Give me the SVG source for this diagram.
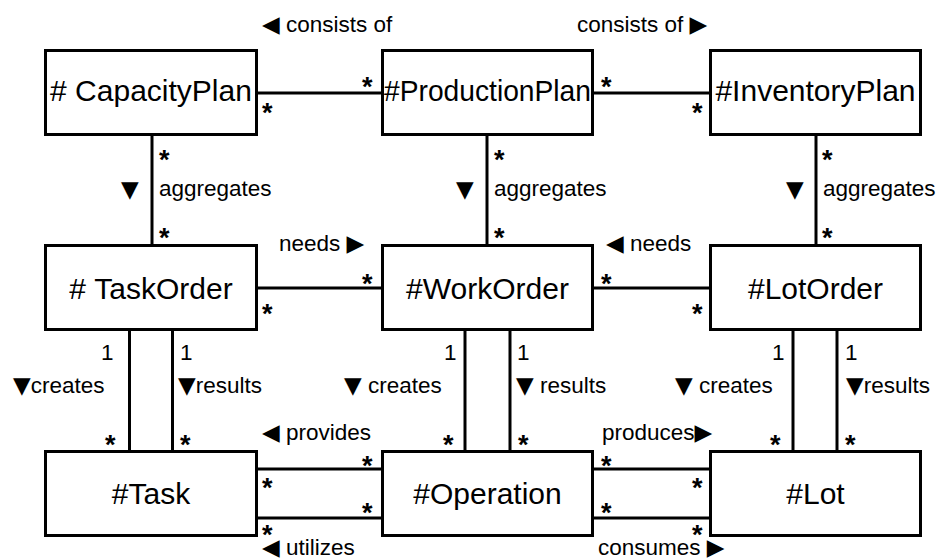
<svg xmlns="http://www.w3.org/2000/svg" width="939" height="560" viewBox="0 0 939 560">
<style>
.box{fill:#fff;stroke:#000;stroke-width:3}
.ln{stroke:#000;stroke-width:3;fill:none}
.nm{font-family:"Liberation Sans",Arial,sans-serif;font-size:30px;fill:#000;text-anchor:middle}
.lb{font-family:"Liberation Sans","DejaVu Sans",Arial,sans-serif;font-size:22.5px;fill:#000}
.st{font-family:"Liberation Sans",Arial,sans-serif;font-size:27px;font-weight:bold;fill:#000}
.tr{font-family:"DejaVu Sans",sans-serif;font-size:23px}
</style>
<rect width="939" height="560" fill="#fff"/>
<g id="connectors">
<line class="ln" x1="257" y1="93" x2="382" y2="93"/>
<line class="ln" x1="592" y1="93" x2="710" y2="93"/>
<line class="ln" x1="152" y1="135" x2="152" y2="246"/>
<line class="ln" x1="487" y1="135" x2="487" y2="246"/>
<line class="ln" x1="816" y1="135" x2="816" y2="246"/>
<line class="ln" x1="257" y1="288" x2="382" y2="288"/>
<line class="ln" x1="592" y1="288" x2="710" y2="288"/>
<line class="ln" x1="129.5" y1="330" x2="129.5" y2="452"/>
<line class="ln" x1="172.5" y1="330" x2="172.5" y2="452"/>
<line class="ln" x1="465" y1="330" x2="465" y2="452"/>
<line class="ln" x1="510" y1="330" x2="510" y2="452"/>
<line class="ln" x1="793" y1="330" x2="793" y2="452"/>
<line class="ln" x1="837" y1="330" x2="837" y2="452"/>
<line class="ln" x1="257" y1="469" x2="382" y2="469"/>
<line class="ln" x1="257" y1="518" x2="382" y2="518"/>
<line class="ln" x1="592" y1="469" x2="710" y2="469"/>
<line class="ln" x1="592" y1="518" x2="710" y2="518"/>
</g>
<g id="labels">
<text class="lb" x="262" y="32"><tspan class="tr">◀</tspan> consists of</text>
<text class="lb" x="577" y="32">consists of <tspan class="tr">▶</tspan></text>
<text class="st" x="262" y="122">*</text>
<text class="st" x="362" y="96">*</text>
<text class="st" x="601" y="96">*</text>
<text class="st" x="692" y="122">*</text>
<text class="st" x="159" y="169">*</text>
<text class="st" x="159" y="247">*</text>
<text class="st" x="494" y="169">*</text>
<text class="st" x="494" y="247">*</text>
<text class="st" x="822" y="169">*</text>
<text class="st" x="822" y="247">*</text>
<text class="lb" x="121" y="197"><tspan class="tr">▼</tspan></text>
<text class="lb" x="159" y="196">aggregates</text>
<text class="lb" x="456" y="197"><tspan class="tr">▼</tspan></text>
<text class="lb" x="494" y="196">aggregates</text>
<text class="lb" x="786" y="197"><tspan class="tr">▼</tspan></text>
<text class="lb" x="823" y="196">aggregates</text>
<text class="lb" x="279" y="251">needs <tspan class="tr">▶</tspan></text>
<text class="lb" x="606" y="251"><tspan class="tr">◀</tspan> needs</text>
<text class="st" x="262" y="323">*</text>
<text class="st" x="362" y="293">*</text>
<text class="st" x="601" y="293">*</text>
<text class="st" x="692" y="323">*</text>
<text class="lb" x="101" y="360">1</text>
<text class="lb" x="180" y="360">1</text>
<text class="lb" x="444" y="360">1</text>
<text class="lb" x="517" y="360">1</text>
<text class="lb" x="772" y="360">1</text>
<text class="lb" x="845" y="360">1</text>
<text class="lb" x="13" y="393"><tspan class="tr">▼</tspan>creates</text>
<text class="lb" x="178" y="393"><tspan class="tr">▼</tspan>results</text>
<text class="lb" x="344" y="393"><tspan class="tr">▼</tspan> creates</text>
<text class="lb" x="516" y="393"><tspan class="tr">▼</tspan> results</text>
<text class="lb" x="675" y="393"><tspan class="tr">▼</tspan> creates</text>
<text class="lb" x="846" y="393"><tspan class="tr">▼</tspan>results</text>
<text class="st" x="105" y="454">*</text>
<text class="st" x="180" y="454">*</text>
<text class="st" x="443" y="454">*</text>
<text class="st" x="518" y="454">*</text>
<text class="st" x="770" y="454">*</text>
<text class="st" x="845" y="454">*</text>
<text class="lb" x="262" y="440"><tspan class="tr">◀</tspan> provides</text>
<text class="lb" x="602" y="440">produces<tspan class="tr">▶</tspan></text>
<text class="st" x="362" y="475">*</text>
<text class="st" x="262" y="497">*</text>
<text class="st" x="362" y="522">*</text>
<text class="st" x="262" y="544">*</text>
<text class="st" x="601" y="475">*</text>
<text class="st" x="692" y="497">*</text>
<text class="st" x="601" y="522">*</text>
<text class="st" x="692" y="544">*</text>
<text class="lb" x="262" y="555"><tspan class="tr">◀</tspan> utilizes</text>
<text class="lb" x="598" y="555">consumes <tspan class="tr">▶</tspan></text>
</g>
<g id="CapacityPlan"><rect class="box" x="45.5" y="50.5" width="211" height="84"/><text class="nm" x="151" y="101">#&#160;CapacityPlan</text></g>
<g id="ProductionPlan"><rect class="box" x="382.5" y="50.5" width="210" height="84"/><text class="nm" x="487.5" y="101" textLength="207" lengthAdjust="spacingAndGlyphs">#ProductionPlan</text></g>
<g id="InventoryPlan"><rect class="box" x="710.5" y="50.5" width="210" height="84"/><text class="nm" x="815.5" y="101">#InventoryPlan</text></g>
<g id="TaskOrder"><rect class="box" x="45.5" y="245.5" width="211" height="84"/><text class="nm" x="151" y="299">#&#160;TaskOrder</text></g>
<g id="WorkOrder"><rect class="box" x="382.5" y="245.5" width="210" height="84"/><text class="nm" x="487.5" y="299">#WorkOrder</text></g>
<g id="LotOrder"><rect class="box" x="710.5" y="245.5" width="210" height="84"/><text class="nm" x="815.5" y="299">#LotOrder</text></g>
<g id="Task"><rect class="box" x="45.5" y="451.5" width="211" height="84"/><text class="nm" x="151" y="504">#Task</text></g>
<g id="Operation"><rect class="box" x="382.5" y="451.5" width="210" height="84"/><text class="nm" x="487.5" y="504">#Operation</text></g>
<g id="Lot"><rect class="box" x="710.5" y="451.5" width="210" height="84"/><text class="nm" x="815.5" y="504">#Lot</text></g>
</svg>
